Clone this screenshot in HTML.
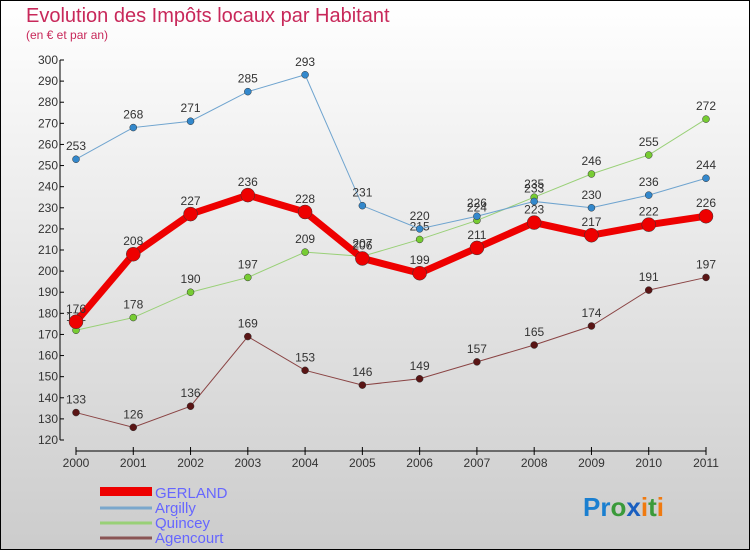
<!DOCTYPE html>
<html><head><meta charset="utf-8"><style>
body{margin:0;width:750px;height:550px;overflow:hidden;font-family:"Liberation Sans",sans-serif}
svg text{font-family:"Liberation Sans",sans-serif}
</style></head><body>
<svg id="c" width="750" height="550">
<defs><linearGradient id="bg" x1="0" y1="0" x2="0" y2="1"><stop offset="0" stop-color="#ffffff"/><stop offset="1" stop-color="#cccccc"/></linearGradient></defs>
<rect x="0.5" y="0.5" width="749" height="549" fill="url(#bg)" stroke="#000"/>
<text x="26" y="22" font-size="20" fill="#c8285a">Evolution des Impôts locaux par Habitant</text>
<text x="26" y="39" font-size="12" fill="#c8285a">(en € et par an)</text>
<g id="axes"></g><g id="series"></g>
<g>
<rect x="100" y="487" width="52" height="9" fill="#e00"/>
<text x="155" y="498" font-size="15" fill="#6666ff">GERLAND</text>
<line x1="100" y1="508" x2="152" y2="508" stroke="#7aa7cc" stroke-width="3"/>
<text x="155" y="513" font-size="15" fill="#6666ff">Argilly</text>
<line x1="100" y1="523" x2="152" y2="523" stroke="#99d077" stroke-width="3"/>
<text x="155" y="528" font-size="15" fill="#6666ff">Quincey</text>
<line x1="100" y1="538" x2="152" y2="538" stroke="#8a5555" stroke-width="3"/>
<text x="155" y="543" font-size="15" fill="#6666ff">Agencourt</text>
</g>
<text x="583" y="516" font-size="26" font-weight="bold"><tspan fill="#1a7fd0">Pr</tspan><tspan fill="#3a9a3a">o</tspan><tspan fill="#1a5fc0">x</tspan><tspan fill="#f07a10">i</tspan><tspan fill="#3a9a3a">t</tspan><tspan fill="#f07a10">i</tspan></text>
</svg>
<script>
const years=["2000","2001","2002","2003","2004","2005","2006","2007","2008","2009","2010","2011"];
const gerland=[176,208,227,236,228,206,199,211,223,217,222,226];
const argilly=[253,268,271,285,293,231,220,226,233,230,236,244];
const quincey=[172,178,190,197,209,207,215,224,235,246,255,272];
const agencourt=[133,126,136,169,153,146,149,157,165,174,191,197];
const yTicks=[120,130,140,150,160,170,180,190,200,210,220,230,240,250,260,270,280,290,300];
const NS="http://www.w3.org/2000/svg";
const X=i=>76+i*(630/11);
const Y=v=>440-(v-120)*(380/180);
function mk(t,a,p){const e=document.createElementNS(NS,t);for(const k in a)e.setAttribute(k,a[k]);p.appendChild(e);return e;}
const ax=document.getElementById('axes');
const yl=mk('line',{x1:60,y1:Y(300),x2:60,y2:Y(120),stroke:'#000'},ax);


yTicks.forEach(v=>{
 const t=mk('line',{x1:60,y1:Y(v),x2:64,y2:Y(v),stroke:'#000'},ax);
 
 
 const l=mk('text',{x:58,y:Y(v)+4,'font-size':12,fill:'#333','text-anchor':'end'},ax);l.textContent=v;
 
 
});
const xl=mk('line',{x1:X(0),y1:451,x2:X(11),y2:451,stroke:'#000'},ax);


years.forEach((y,i)=>{
 const t=mk('line',{x1:X(i),y1:447,x2:X(i),y2:455,stroke:'#000'},ax);
 
 
 const l=mk('text',{x:X(i),y:467,'font-size':12,fill:'#333','text-anchor':'middle'},ax);l.textContent=y;
 
 
});
const sg=document.getElementById('series');
function draw(name,data,color,mcolor,w,r){
 const g=mk('g',{},sg);
 
 
 const p=mk('polyline',{points:data.map((v,i)=>X(i)+','+Y(v)).join(' '),fill:'none',stroke:color,'stroke-width':w},g);
 
 
 data.forEach((v,i)=>{
  const c=mk('circle',{cx:X(i),cy:Y(v),r:r,fill:mcolor,stroke:'#333','stroke-width':0.5},g);
  
  
  const l=mk('text',{x:X(i),y:Y(v)-9,'font-size':12,fill:'#333','text-anchor':'middle'},g);l.textContent=v;
  
  
 });
}
draw('agencourt',agencourt,'#8a4444','#5a1515',1,3.5);
draw('quincey',quincey,'#99d077','#77cc33',1,3.5);
draw('argilly',argilly,'#6fa4cf','#3388cc',1,3.5);
draw('gerland',gerland,'#ee0000','#ee0000',7,7);
</script>
</body></html>
